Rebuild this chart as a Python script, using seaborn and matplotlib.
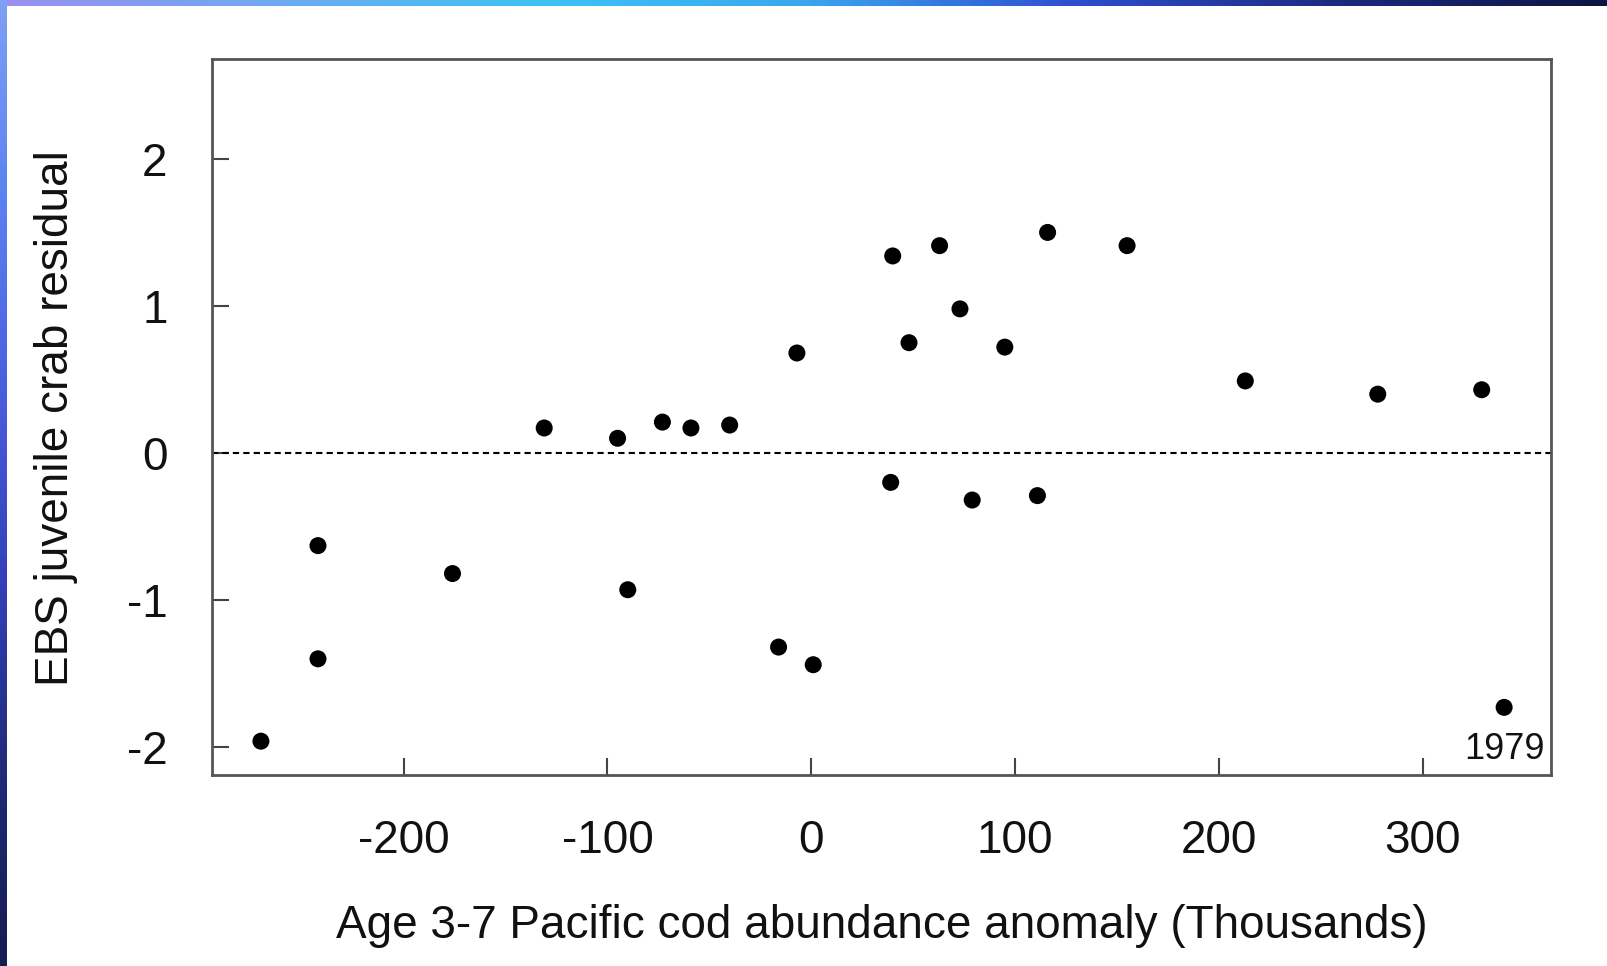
import numpy as np
import pandas as pd
import matplotlib
matplotlib.use("Agg")
import matplotlib.pyplot as plt
import seaborn as sns
from matplotlib.colors import LinearSegmentedColormap

cod_anomaly = [-270, -242, -242, -176, -131, -95, -90, -73, -59, -40, -16, -7, 1,
               39, 40, 48, 63, 73, 79, 95, 111, 116, 155, 213, 278, 329, 340]
crab_residual = [-1.96, -0.63, -1.40, -0.82, 0.17, 0.10, -0.93, 0.21, 0.17, 0.19,
                 -1.32, 0.68, -1.44, -0.20, 1.34, 0.75, 1.41, 0.98, -0.32, 0.72,
                 -0.29, 1.50, 1.41, 0.49, 0.40, 0.43, -1.73]
xticks = [-200, -100, 0, 100, 200, 300]
yticks = [-2, -1, 0, 1, 2]

df = pd.DataFrame({"x": cod_anomaly, "y": crab_residual})

sns.set_theme(style="white")
plt.rcParams['font.family'] = ['Liberation Sans', 'DejaVu Sans']

fig = plt.figure(figsize=(16.08, 9.66), dpi=100)
fig.patch.set_facecolor("white")

# decorative gradient bands
top_cmap = LinearSegmentedColormap.from_list("top", ["#9a8ff0", "#6fa8f5", "#3ec2f5", "#3aa8ef", "#2f4fd0", "#1c2a80", "#0d1440"])
left_cmap = LinearSegmentedColormap.from_list("left", ["#7fa0f5", "#5b82f0", "#4a5fe0", "#3340b8", "#1f2a78", "#141c50"])
axt = fig.add_axes([0, 1 - 6 / 966, 1, 6 / 966])
axt.imshow(np.linspace(0, 1, 256)[None, :], aspect="auto", cmap=top_cmap)
axt.axis("off")
axl = fig.add_axes([0, 0, 7 / 1608, 1])
axl.imshow(np.linspace(0, 1, 256)[:, None], aspect="auto", cmap=left_cmap)
axl.axis("off")

ax = fig.add_axes([212 / 1608, 1 - 775 / 966, (1551 - 212) / 1608, (775 - 59.5) / 966])
sns.scatterplot(data=df, x="x", y="y", ax=ax, color="black", s=150, edgecolor="none", zorder=3)
ax.axhline(0, color="black", linestyle=(0, (3, 2)), linewidth=1.5, zorder=2)

ax.set_xlim(-294, 363)
ax.set_ylim(-2.19, 2.676)
ax.set_xticks(xticks)
ax.set_yticks(yticks)
ax.set_xticklabels([str(t) for t in xticks])
ax.set_yticklabels([str(t) for t in yticks])
ax.tick_params(direction="in", length=12, width=1.5, color="#444444", labelsize=33,
               labelcolor="#111111", left=True, bottom=True, pad=32)
for sp in ax.spines.values():
    sp.set_color("#555555")
    sp.set_linewidth(2)
ax.set_xlabel("")
ax.set_ylabel("")

fig.text((212 + 1551) / 2 / 1608, 1 - 926 / 966, "Age 3-7 Pacific cod abundance anomaly (Thousands)",
         ha="center", va="center", fontsize=33, color="#111111")
fig.text(56 / 1608, 1 - 418 / 966, "EBS juvenile crab residual", rotation=90,
         ha="center", va="center", fontsize=33, color="#111111")

ax.annotate("1979", xy=(cod_anomaly[-1], crab_residual[-1]), xytext=(0, -30),
            textcoords="offset points", ha="center", va="center", fontsize=26, color="#111111")

fig.savefig("out.png", dpi=100, facecolor="white")
